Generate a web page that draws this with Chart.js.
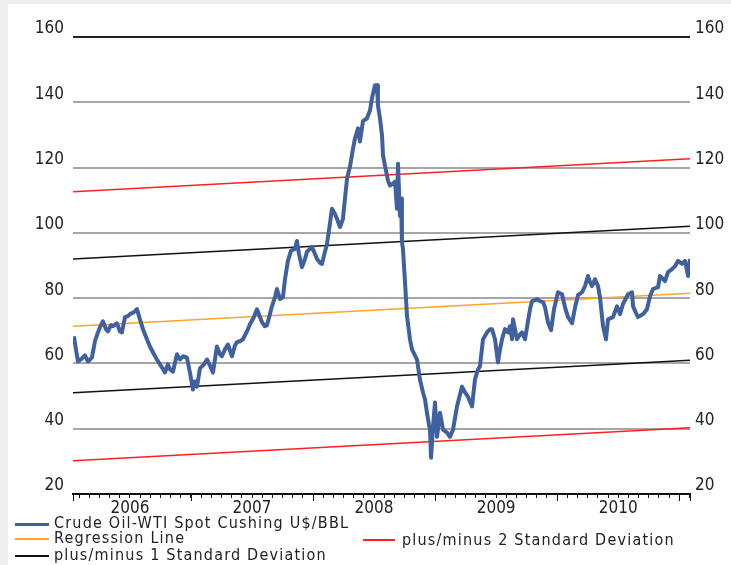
<!DOCTYPE html>
<html>
<head>
<meta charset="utf-8">
<script src="https://cdn.jsdelivr.net/npm/chart.js@4.4.0/dist/chart.umd.min.js"></script>
<style>
	html, body { margin: 0; padding: 0; background: #efefef; }
	#panel { position: absolute; left: 8px; top: 4px; width: 723px; height: 561px; background: #fff; }
	#chart { position: absolute; left: 0; top: 0; }
	.lg { position: absolute; font: 16px "DejaVu Sans Condensed", "DejaVu Sans", sans-serif; color: #222; line-height: 16px; white-space: nowrap; letter-spacing: 1.2px; }
	.sw { position: absolute; height: 0; }
</style>
</head>
<body>
<div id="panel"></div>
<canvas id="chart" width="731" height="565"></canvas>

<div class="sw" style="left:15px;top:523px;width:34px;border-top:3px solid #41609e;"></div>
<div class="lg" style="left:54px;top:515px;">Crude Oil-WTI Spot Cushing U$/BBL</div>
<div class="sw" style="left:15px;top:538px;width:34px;border-top:2px solid #ffa526;"></div>
<div class="lg" style="left:54px;top:530px;">Regression Line</div>
<div class="sw" style="left:363px;top:539px;width:32px;border-top:2px solid #ff2020;"></div>
<div class="lg" style="left:402px;top:532px;">plus/minus 2 Standard Deviation</div>
<div class="sw" style="left:15px;top:555px;width:34px;border-top:2px solid #111;"></div>
<div class="lg" style="left:54px;top:547px;">plus/minus 1 Standard Deviation</div>

<script>
	'use strict';

	// x values are months since January 2006
	const months = [
		0.49, 0.69, 0.89, 1.28, 1.57, 1.87, 2.26, 2.56, 2.85, 3.05, 3.34, 3.64, 3.83, 4.13, 4.33, 4.72,
		5.01, 5.21, 5.51, 5.80, 6.00, 6.39, 6.69, 6.98, 7.28, 7.67, 7.96, 8.36, 8.65, 8.95, 9.14, 9.44,
		9.73, 9.93, 10.23, 10.62, 10.91, 11.21, 11.60, 11.90, 12.19, 12.39, 12.59, 12.88, 13.27, 13.57,
		13.86, 14.16, 14.55, 14.85, 15.04, 15.34, 15.63, 16.03, 16.32, 16.52, 16.81, 17.11, 17.50, 17.80,
		18.19, 18.49, 18.78, 18.98, 19.27, 19.47, 19.76, 19.96, 20.26, 20.45, 20.75, 21.04, 21.24, 21.53,
		21.83, 22.22, 22.42, 22.62, 22.91, 23.21, 23.40, 23.70, 23.89, 24.19, 24.39, 24.68, 24.88, 25.17,
		25.37, 25.66, 25.86, 26.16, 26.35, 26.65, 26.94, 27.14, 27.34, 27.63, 27.93, 28.12, 28.42, 28.61,
		28.91, 29.30, 29.60, 29.79, 30.09, 30.29, 30.38, 30.58, 30.78, 30.88, 31.07, 31.37, 31.56, 31.86,
		32.06, 32.25, 32.35, 32.55, 32.65, 32.74, 32.84, 33.04, 33.24, 33.53, 33.73, 34.22, 34.51, 34.81,
		35.01, 35.20, 35.40, 35.50, 35.60, 35.79, 35.99, 36.19, 36.48, 36.78, 37.17, 37.46, 37.76, 38.15,
		38.45, 38.64, 38.94, 39.23, 39.63, 39.92, 40.22, 40.41, 40.71, 41.10, 41.40, 41.59, 41.89, 42.18,
		42.38, 42.58, 42.87, 43.17, 43.36, 43.56, 43.66, 44.05, 44.35, 44.54, 44.84, 45.13, 45.33, 45.53,
		45.82, 46.02, 46.31, 46.61, 46.81, 47.10, 47.40, 47.69, 48.08, 48.48, 48.77, 49.07, 49.46, 49.76,
		50.05, 50.44, 50.74, 51.03, 51.23, 51.43, 51.72, 52.02, 52.21, 52.51, 52.80, 53.00, 53.49, 53.88,
		54.18, 54.47, 54.97, 55.36, 55.46, 55.75, 55.95, 56.44, 56.83, 57.13, 57.42, 57.92, 58.11, 58.60,
		58.90, 59.29, 59.59, 59.88, 60.28, 60.57, 60.87, 61.06
	];
	const wtiPrices = [
		68.3, 64.3, 60.6, 61.5, 62.5, 60.6, 61.8, 66.8, 69.5, 71.1, 72.9, 70.5, 69.8, 71.7, 71.4, 72.3,
		69.8, 69.5, 74.2, 74.5, 75.1, 75.7, 76.6, 73.5, 70.5, 67.4, 65.2, 62.8, 61.2, 59.7, 58.8, 57.2,
		59.7, 58.2, 57.5, 62.8, 61.2, 62.2, 61.8, 57.2, 52.0, 54.5, 52.9, 58.5, 59.7, 61.2,
		59.4, 57.2, 65.2, 62.8, 62.2, 64.3, 65.8, 62.2, 65.5, 66.5, 66.8, 67.4, 69.8, 72.0,
		74.2, 76.6, 74.2, 72.6, 71.4, 71.7, 75.1, 77.5, 80.3, 82.8, 79.7, 80.3, 85.8, 91.4,
		94.5, 95.1, 97.5, 93.5, 89.5, 92.0, 94.2, 95.1, 95.7, 93.5, 92.0, 90.8, 90.5, 94.2,
		96.6, 102.8, 107.4, 105.8, 104.3, 101.8, 104.3, 110.5, 116.6, 120.3, 125.8, 128.9, 132.0, 128.0,
		134.2, 135.1, 137.5, 141.2, 145.2, 145.2, 139.1, 135.1, 129.8, 123.7, 120.6, 116.0, 114.5, 115.1,
		115.7, 107.4, 121.2, 105.2, 110.5, 97.2, 95.1, 84.9, 74.5, 67.4, 64.3, 61.2, 55.1, 51.1,
		48.9, 44.9, 41.2, 39.7, 31.1, 40.6, 48.0, 37.5, 44.9, 39.7, 38.8, 37.5, 39.7, 46.8,
		50.5, 52.9, 51.1, 49.8, 46.8, 55.1, 58.2, 59.1, 67.4, 69.5, 70.5, 70.5, 67.4, 60.3,
		64.3, 67.4, 70.5, 69.5, 71.4, 67.4, 73.5, 67.4, 68.9, 69.5, 67.4, 72.9, 76.6, 79.1,
		79.4, 79.7, 79.1, 78.8, 77.2, 72.6, 70.2, 76.6, 81.8, 81.2, 77.2, 74.2, 72.3, 77.2,
		80.9, 81.8, 83.7, 86.8, 84.9, 83.7, 85.8, 83.7, 80.3, 71.4, 67.4, 73.5, 74.2, 77.5,
		75.1, 78.2, 81.2, 81.8, 77.5, 75.4, 74.2, 75.1, 76.6, 80.6, 82.8, 83.4, 86.8, 85.2,
		88.0, 88.9, 89.8, 91.4, 90.5, 91.4, 86.8, 92.0
	];

	// straight bands: start / end values
	const bandMonths = [0.4, 61.06];
	const regressionLine = [71.4, 81.5];
	const plus1Sd = [92.0, 102.0];
	const minus1Sd = [51.0, 61.0];
	const plus2Sd = [112.6, 122.7];
	const minus2Sd = [30.2, 40.3];

	const yTicks = [20, 40, 60, 80, 100, 120, 140, 160];
	const tickMonths = Array.from({ length: 61 }, (_, i) => i + 1);
	const yearMonths = [12, 24, 36, 48, 60];
	const yearLabels = { 6: '2006', 18: '2007', 30: '2008', 42: '2009', 54: '2010' };

	const X_MIN = 0.4;
	const X_MAX = 61.06;
	const FONT = { family: '"DejaVu Sans Condensed", "DejaVu Sans", sans-serif', size: 17 };

	function toPoints(xs, ys) {
		return xs.map((x, i) => ({ x: x, y: ys[i] }));
	}

	function band(label, values, color, width) {
		return {
			label: label,
			data: toPoints(bandMonths, values),
			borderColor: color,
			borderWidth: width,
			pointRadius: 0,
			fill: false
		};
	}

	// longer tick marks at the year boundaries
	const yearTicks = {
		id: 'yearTicks',
		afterDraw(chart) {
			const xs = chart.scales.x;
			const ctx = chart.ctx;
			const bottom = chart.chartArea.bottom;
			ctx.save();
			ctx.strokeStyle = '#111';
			ctx.lineWidth = 1;
			[X_MIN, ...yearMonths, X_MAX].forEach(m => {
				const px = Math.round(xs.getPixelForValue(m)) + 0.5;
				ctx.beginPath();
				ctx.moveTo(px, bottom);
				ctx.lineTo(px, bottom + 7);
				ctx.stroke();
			});
			ctx.restore();
		}
	};

	new Chart(document.getElementById('chart'), {
		type: 'line',
		data: {
			datasets: [
				{
					label: 'Crude Oil-WTI Spot Cushing U$/BBL',
					data: toPoints(months, wtiPrices),
					borderColor: '#41609e',
					borderWidth: 4,
					borderJoinStyle: 'round',
					pointRadius: 0,
					tension: 0,
					fill: false
				},
				band('Regression Line', regressionLine, '#ffa526', 1.5),
				band('plus/minus 1 Standard Deviation', plus1Sd, '#111', 1.5),
				band('plus/minus 1 Standard Deviation', minus1Sd, '#111', 1.5),
				band('plus/minus 2 Standard Deviation', plus2Sd, '#ff2020', 1.5),
				band('plus/minus 2 Standard Deviation', minus2Sd, '#ff2020', 1.5)
			]
		},
		options: {
			responsive: false,
			animation: false,
			layout: { padding: { top: 37, left: 0, right: 0, bottom: 0 } },
			plugins: {
				legend: { display: false },
				tooltip: { enabled: false }
			},
			scales: {
				x: {
					type: 'linear',
					min: X_MIN,
					max: X_MAX,
					afterBuildTicks: axis => { axis.ticks = tickMonths.map(v => ({ value: v })); },
					afterFit: axis => { axis.height = 71; },
					border: { display: true, color: '#111', width: 2 },
					grid: {
						drawOnChartArea: false,
						drawTicks: true,
						tickLength: 4,
						color: '#111',
						lineWidth: 1
					},
					ticks: {
						autoSkip: false,
						maxRotation: 0,
						padding: 0,
						color: '#222',
						font: FONT,
						callback: value => yearLabels[value] || ''
					}
				},
				y: {
					position: 'left',
					min: 20,
					max: 160,
					afterBuildTicks: axis => { axis.ticks = yTicks.map(v => ({ value: v })); },
					afterFit: axis => { axis.width = 73; },
					border: { display: false },
					grid: {
						drawTicks: false,
						lineWidth: 2,
						color: ctx => {
							if (ctx.tick.value === 160) return '#222';
							if (ctx.tick.value === 20) return 'rgba(0,0,0,0)';
							return '#a6a6a6';
						}
					},
					ticks: {
						padding: 9,
						labelOffset: -8,
						color: '#222',
						font: FONT
					}
				},
				y2: {
					position: 'right',
					min: 20,
					max: 160,
					afterBuildTicks: axis => { axis.ticks = yTicks.map(v => ({ value: v })); },
					afterFit: axis => { axis.width = 41; },
					border: { display: false },
					grid: { drawOnChartArea: false, drawTicks: false },
					ticks: {
						padding: 5,
						labelOffset: -8,
						color: '#222',
						font: FONT
					}
				}
			}
		},
		plugins: [yearTicks]
	});
</script>
</body>
</html>
